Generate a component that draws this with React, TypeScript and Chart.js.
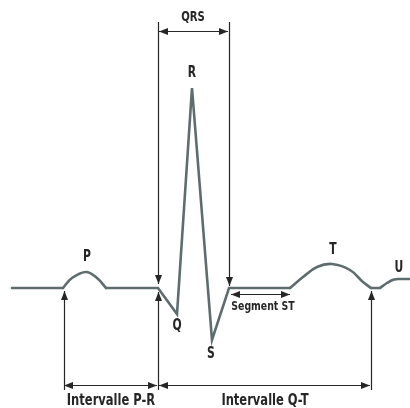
import React, { useEffect, useRef } from "react";
import { Chart, registerables } from "chart.js";

Chart.register(...registerables);

// Waveform (x: time units, y: amplitude relative to the isoelectric line)
const leadInX = [12, 63];
const leadInY = [0, 0];
const pWaveX = [63, 72, 86, 97, 106];
const pWaveY = [0, 10, 16, 10, 0];
const qrsX = [106, 158, 177, 192, 212, 229, 290];
const qrsY = [0, 0, -26, 200, -52, 0, 0];
const tWaveX = [290, 303, 317, 332, 350, 363, 371];
const tWaveY = [0, 11, 21, 24, 18, 6, 0];
const tuX = [371, 380];
const tuY = [0, 0];
const uWaveX = [380, 387, 394, 401, 410];
const uWaveY = [0, 5, 8.5, 9, 9];

// Vertical markers: x position, start amplitude, arrow tip amplitude
const markerX = [64, 158, 158, 229, 371];
const markerFrom = [-102, 266, -102, 266, -102];
const markerTip = [-3, 4, -4, 2, -3];

// Horizontal double arrows
const spanY = [257, -97, -97, -6];
const spanStart = [159, 64, 159, 231];
const spanEnd = [228, 157, 370, 290];

// Labels
const labelText = ["P", "R", "Q", "S", "T", "U", "QRS", "Segment ST", "Intervalle P-R", "Intervalle Q-T"];
const labelX = [87, 192, 177, 211, 333, 399, 193, 263, 111, 265];
const labelY = [31, 215, -38, -66, 38, 20, 271, -19, -113, -113];
const labelSize = [15, 15, 15, 15, 15, 15, 14, 13, 16, 16];

const pts = (xs: number[], ys: number[]) => xs.map((v, i) => ({ x: v, y: ys[i] }));

const LINE = "#5d6d6e";
const INK = "#262626";
const FONT = "'Liberation Sans Narrow', 'DejaVu Sans Condensed', 'Roboto', sans-serif";
const SQUEEZE = 0.8;

const annotations = {
  id: "ecgAnnotations",
  afterDatasetsDraw(chart: any) {
    const { ctx, scales } = chart;
    const X = (v: number) => scales.x.getPixelForValue(v);
    const Y = (v: number) => scales.y.getPixelForValue(v);
    const head = (tx: number, ty: number, dx: number, dy: number) => {
      const len = 9, half = 3.5;
      const bx = tx - dx * len, by = ty - dy * len;
      ctx.beginPath();
      ctx.moveTo(tx, ty);
      ctx.lineTo(bx - dy * half, by + dx * half);
      ctx.lineTo(bx + dy * half, by - dx * half);
      ctx.closePath();
      ctx.fill();
    };
    ctx.save();
    ctx.strokeStyle = INK;
    ctx.fillStyle = INK;
    ctx.lineWidth = 1.2;
    markerX.forEach((mx, i) => {
      const x = Math.round(X(mx)) + 0.5;
      const y1 = Y(markerFrom[i]);
      const y2 = Y(markerTip[i]);
      ctx.beginPath();
      ctx.moveTo(x, y1);
      ctx.lineTo(x, y2);
      ctx.stroke();
      head(x, y2, 0, Math.sign(y2 - y1));
    });
    spanY.forEach((sy, i) => {
      const y = Math.round(Y(sy)) + 0.5;
      const x1 = X(spanStart[i]);
      const x2 = X(spanEnd[i]);
      ctx.beginPath();
      ctx.moveTo(x1, y);
      ctx.lineTo(x2, y);
      ctx.stroke();
      head(x1, y, -1, 0);
      head(x2, y, 1, 0);
    });
    ctx.textAlign = "center";
    ctx.textBaseline = "middle";
    labelText.forEach((t, i) => {
      ctx.save();
      ctx.font = `bold ${labelSize[i]}px ${FONT}`;
      ctx.translate(X(labelX[i]), Y(labelY[i]));
      ctx.scale(SQUEEZE, 1);
      ctx.fillText(t, 0, 0);
      ctx.restore();
    });
    ctx.restore();
  },
};

export default function App() {
  const ref = useRef<HTMLCanvasElement>(null);
  useEffect(() => {
    if (!ref.current) return;
    const mk = (xs: number[], ys: number[], tension: number) => ({
      data: pts(xs, ys),
      showLine: true,
      borderColor: LINE,
      borderWidth: 2.6,
      pointRadius: 0,
      tension,
      borderJoinStyle: "miter" as const,
      borderCapStyle: "round" as const,
    });
    const chart = new Chart(ref.current, {
      type: "scatter",
      data: {
        datasets: [
          mk(leadInX, leadInY, 0),
          mk(pWaveX, pWaveY, 0.4),
          mk(qrsX, qrsY, 0),
          mk(tWaveX, tWaveY, 0.4),
          mk(tuX, tuY, 0),
          mk(uWaveX, uWaveY, 0.4),
        ],
      },
      options: {
        animation: false,
        responsive: false,
        layout: { padding: 0 },
        plugins: { legend: { display: false }, tooltip: { enabled: false } },
        scales: {
          x: { type: "linear", min: 0, max: 410, display: false },
          y: { type: "linear", min: -120, max: 288, display: false },
        },
      },
      plugins: [annotations],
    });
    return () => chart.destroy();
  }, []);
  return (
    <div style={{ position: "fixed", left: 0, top: 0, width: 410, height: 408, background: "#fff" }}>
      <canvas ref={ref} width={410} height={408} style={{ display: "block" }} />
    </div>
  );
}
